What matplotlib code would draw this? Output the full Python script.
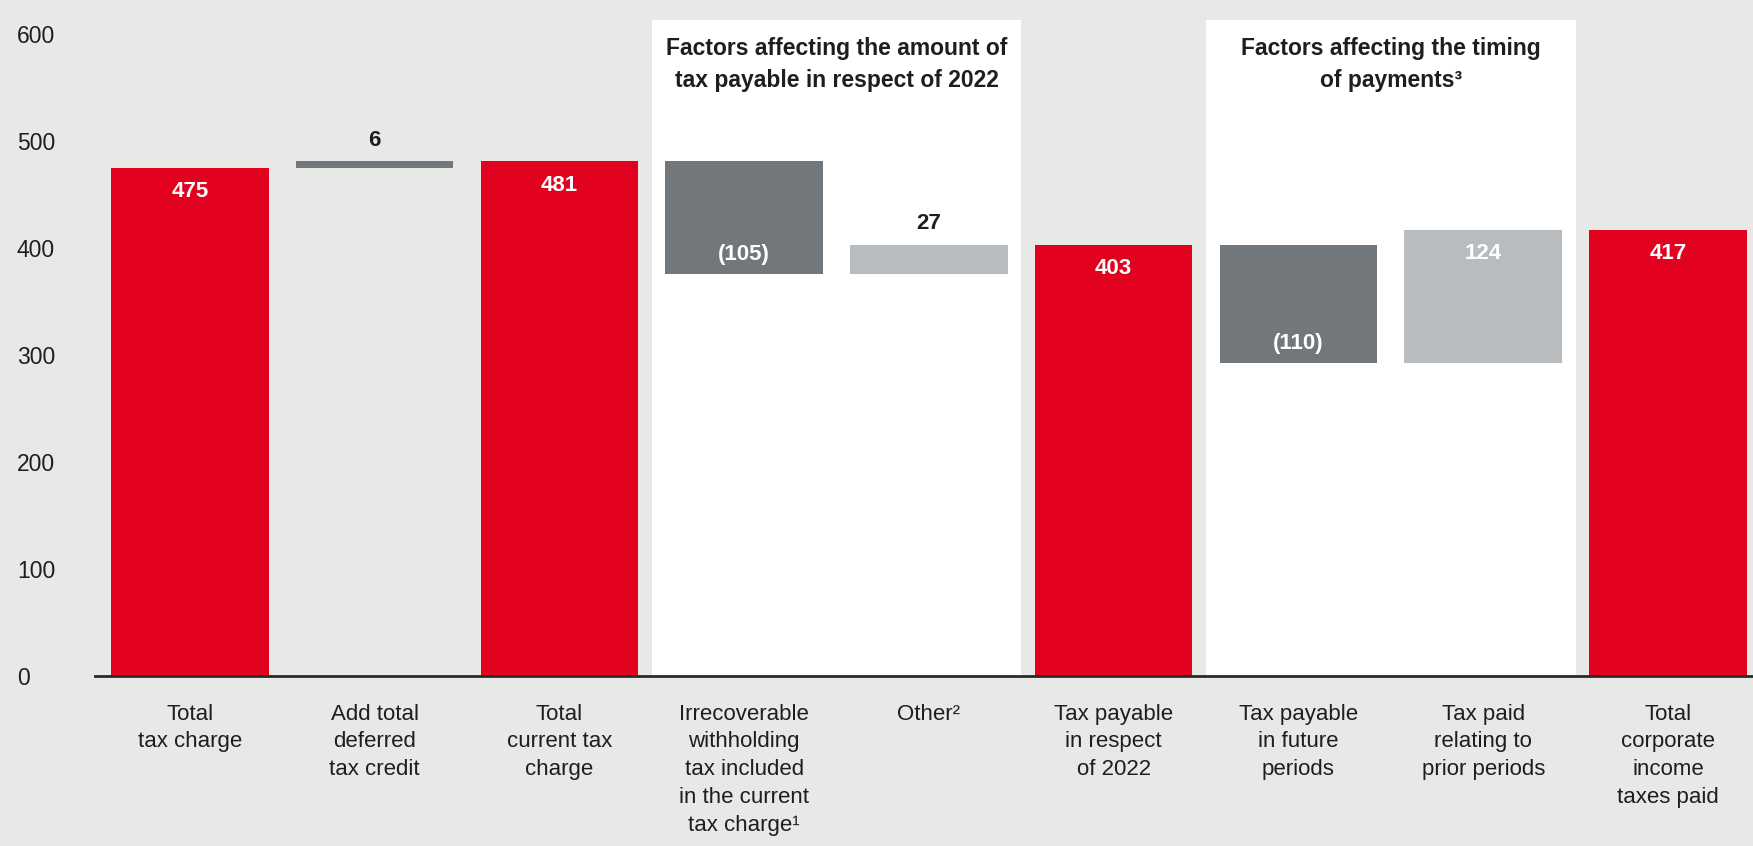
import numpy as np
import matplotlib
matplotlib.use("Agg")
import matplotlib.pyplot as plt

plt.rcParams['font.family'] = ['Liberation Sans Narrow', 'Liberation Sans', 'DejaVu Sans']

# data
categories = ["Total\ntax charge", "Add total\ndeferred\ntax credit", "Total\ncurrent tax\ncharge",
              "Irrecoverable\nwithholding\ntax included\nin the current\ntax charge\u00b9", "Other\u00b2",
              "Tax payable\nin respect\nof 2022", "Tax payable\nin future\nperiods",
              "Tax paid\nrelating to\nprior periods", "Total\ncorporate\nincome\ntaxes paid"]
values = [475, 6, 481, -105, 27, 403, -110, 124, 417]
is_total = [True, False, True, False, False, True, False, False, True]
labels = ["475", "6", "481", "(105)", "27", "403", "(110)", "124", "417"]
groups = [(2.5, 4.5, "Factors affecting the amount of\ntax payable in respect of 2022"),
          (5.5, 7.5, "Factors affecting the timing\nof payments\u00b3")]

RED = "#E2011F"
DARK = "#72777B"
LIGHT = "#B8BCBE"
BG = "#E8E8E6"
TXT = "#1E1E1E"

# waterfall bottoms
bottoms = []
heights = []
running = 0
for v, t in zip(values, is_total):
    if t:
        bottoms.append(0)
        heights.append(v)
        running = v
    else:
        if v >= 0:
            bottoms.append(running)
        else:
            bottoms.append(running + v)
        heights.append(abs(v))
        running += v

colors = []
for i, (v, t) in enumerate(zip(values, is_total)):
    if t:
        colors.append(RED)
    elif v < 0 or i == 1:
        colors.append(DARK)
    else:
        colors.append(LIGHT)

fig = plt.figure(figsize=(17.53, 8.46), dpi=100)
fig.patch.set_facecolor(BG)
ax = fig.add_axes([0.054, 0.201, 0.946, 0.775])
ax.set_facecolor(BG)

x = np.arange(len(values))
for a, b, title in groups:
    ax.axvspan(a, b, ymin=0, ymax=1, color="white", zorder=0, lw=0)
    ax.text((a + b) / 2, 597, title, ha="center", va="top", fontsize=16.5,
            fontweight="bold", color=TXT, linespacing=1.45)

ax.bar(x, heights, bottom=bottoms, width=0.853, color=colors, zorder=2)

# value labels
for i in range(len(values)):
    top = bottoms[i] + heights[i]
    if is_total[i] or i == 7:
        ax.text(i, top - 22, labels[i], ha="center", va="center", fontsize=16,
                fontweight="bold", color="white", zorder=3)
    elif values[i] < 0:
        ax.text(i, bottoms[i] + 18, labels[i], ha="center", va="center", fontsize=16,
                fontweight="bold", color="white", zorder=3)
    else:
        ax.text(i, top + 20, labels[i], ha="center", va="center", fontsize=16,
                fontweight="bold", color=TXT, zorder=3)

ax.set_xlim(-0.515, 8.46)
ax.set_ylim(0, 613)
ax.set_yticks([0, 100, 200, 300, 400, 500, 600])
ax.set_xticks(x)
ax.set_xticklabels(categories, fontsize=16, color=TXT, linespacing=1.42)
ax.tick_params(axis="x", length=0, pad=20)
ax.tick_params(axis="y", length=0, pad=56, labelsize=16.5, labelcolor=TXT)
for lab in ax.get_yticklabels():
    lab.set_horizontalalignment("left")

for s in ["top", "right", "left"]:
    ax.spines[s].set_visible(False)
ax.spines["bottom"].set_color("#2A2A2A")
ax.spines["bottom"].set_linewidth(2)
ax.spines["bottom"].set_zorder(4)

fig.savefig("out.png", dpi=100, facecolor=BG)
